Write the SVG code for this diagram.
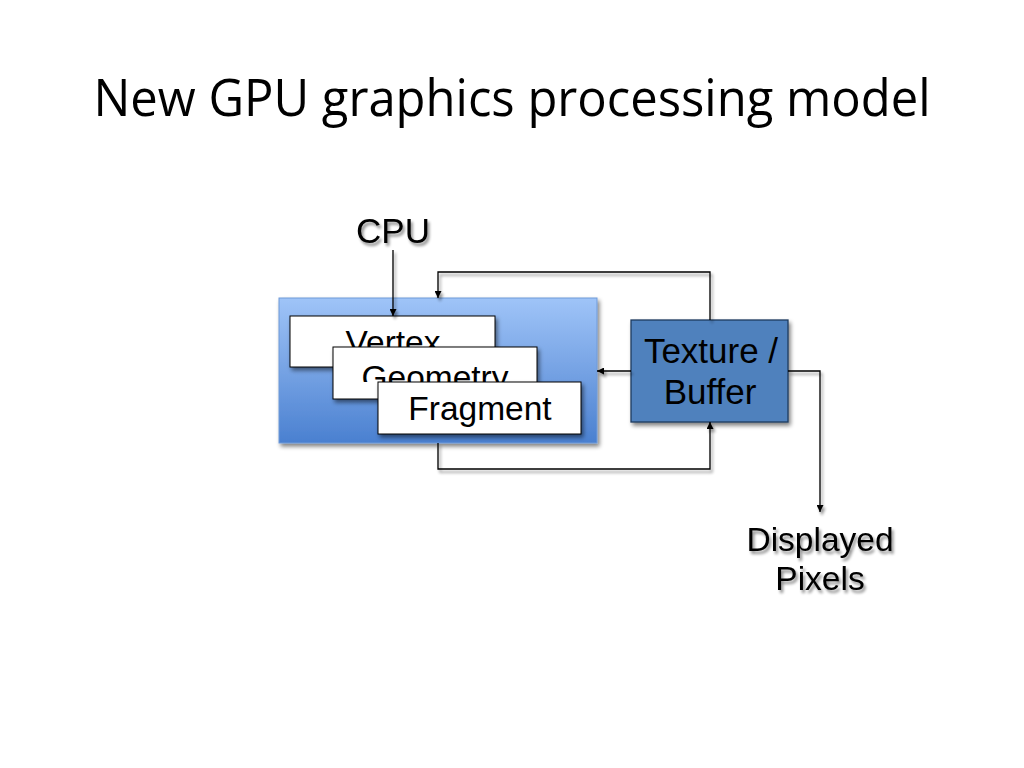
<svg xmlns="http://www.w3.org/2000/svg" width="1024" height="768" viewBox="0 0 1024 768">
<style>
.lbl{font-family:"Liberation Sans",Arial,sans-serif;font-size:33.5px;fill:#000;text-anchor:middle}
.big{font-size:35px}
.conn{fill:none;stroke:#000;stroke-width:1.3}
.stage{fill:#fff;stroke:#000;stroke-width:1}
</style>
<defs>
<linearGradient id="gpuGrad" x1="0" y1="0" x2="0" y2="1">
<stop offset="0" stop-color="#9fc4f8"/>
<stop offset="0.45" stop-color="#7aa6e6"/>
<stop offset="1" stop-color="#4a80d0"/>
</linearGradient>
<filter id="shadow" x="-10%" y="-10%" width="125%" height="130%">
<feGaussianBlur in="SourceAlpha" stdDeviation="2"/>
<feOffset dx="2" dy="3" result="b"/>
<feComponentTransfer><feFuncA type="linear" slope="0.5"/></feComponentTransfer>
<feMerge><feMergeNode/><feMergeNode in="SourceGraphic"/></feMerge>
</filter>
<filter id="tshadow" x="-10%" y="-20%" width="125%" height="150%">
<feGaussianBlur in="SourceAlpha" stdDeviation="1.5"/>
<feOffset dx="2" dy="3"/>
<feComponentTransfer><feFuncA type="linear" slope="0.45"/></feComponentTransfer>
<feMerge><feMergeNode/><feMergeNode in="SourceGraphic"/></feMerge>
</filter>
<marker id="arr" viewBox="0 0 10 10" refX="10" refY="5" markerWidth="7" markerHeight="7" markerUnits="userSpaceOnUse" orient="auto">
<path d="M0,0 L10,5 L0,10 z" fill="#000"/>
</marker>
<clipPath id="clipVertex"><rect x="290" y="316" width="205" height="31"/></clipPath>
<clipPath id="clipGeom"><rect x="333" y="347" width="204" height="35"/></clipPath>
</defs>
<rect width="1024" height="768" fill="#fff"/>
<text x="512" y="116" font-family="'Open Sans','Noto Sans',sans-serif" font-size="52" textLength="837" lengthAdjust="spacingAndGlyphs" text-anchor="middle" fill="#000">New GPU graphics processing model</text>

<g id="gpu">
<rect x="279" y="298" width="318" height="145" fill="url(#gpuGrad)" stroke="#6f9ad8" stroke-width="1" filter="url(#shadow)"/>
</g>
<g id="vertex">
<rect class="stage" x="290" y="316" width="205" height="51" filter="url(#shadow)"/>
<text class="lbl" x="393" y="354" clip-path="url(#clipVertex)">Vertex</text>
</g>
<g id="geometry">
<rect class="stage" x="333" y="347" width="204" height="52" filter="url(#shadow)"/>
<text class="lbl" x="435" y="389" clip-path="url(#clipGeom)">Geometry</text>
</g>
<g id="fragment">
<rect class="stage" x="378" y="382" width="203" height="52" filter="url(#shadow)"/>
<text class="lbl" x="480" y="420">Fragment</text>
</g>
<g id="texture">
<rect x="631" y="320" width="157" height="102" fill="#4f81bd" stroke="#1f3a5f" stroke-width="1.3" filter="url(#shadow)"/>
<text class="lbl big" x="711" y="363">Texture /</text>
<text class="lbl big" x="710" y="404">Buffer</text>
</g>
<g id="cpu" filter="url(#tshadow)">
<text class="lbl big" x="393" y="243">CPU</text>
</g>
<g id="pixels" filter="url(#tshadow)">
<text class="lbl" x="820" y="551">Displayed</text>
<text class="lbl" x="820" y="590">Pixels</text>
</g>
<g id="connectors" filter="url(#tshadow)">
<path class="conn" d="M393,250 V316" marker-end="url(#arr)"/>
<path class="conn" d="M710,320 V272 H438 V298" marker-end="url(#arr)"/>
<path class="conn" d="M631,371 H597" marker-end="url(#arr)"/>
<path class="conn" d="M438,443 V469 H710 V422" marker-end="url(#arr)"/>
<path class="conn" d="M788,371 H820 V512" marker-end="url(#arr)"/>
</g>
</svg>
